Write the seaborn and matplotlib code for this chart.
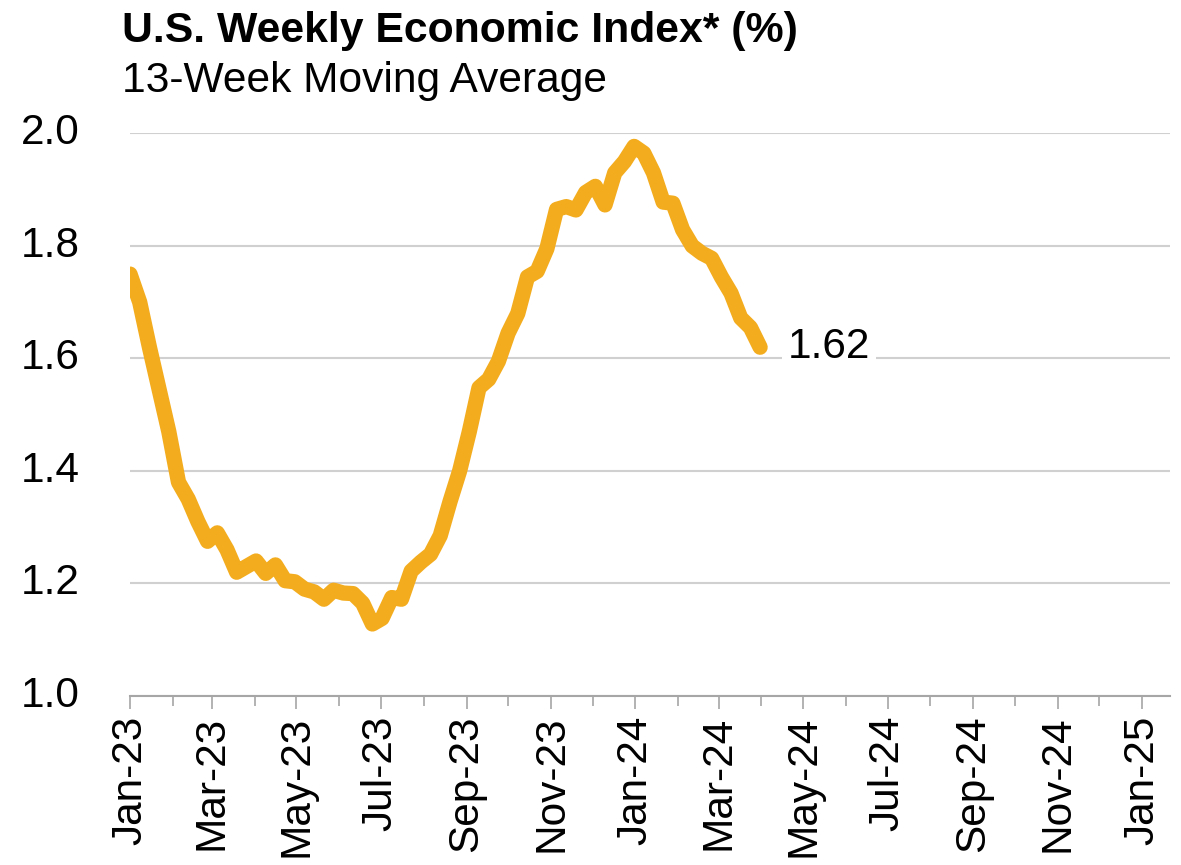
import matplotlib
matplotlib.use("Agg")
import matplotlib.pyplot as plt
import matplotlib.dates as mdates
import numpy as np
import pandas as pd
import seaborn as sns

# -------------------------- data --------------------------
# weekly observations, 13-week moving average (%)
week_start = "2023-01-01"
wei_values = [
    1.75, 1.70, 1.62, 1.545, 1.47, 1.38, 1.35, 1.31, 1.275, 1.29,
    1.26, 1.22, 1.23, 1.24, 1.218, 1.233, 1.205, 1.203, 1.19, 1.185,
    1.172, 1.188, 1.183, 1.182, 1.165, 1.128, 1.138, 1.175, 1.172, 1.222,
    1.238, 1.252, 1.285, 1.345, 1.40, 1.47, 1.548, 1.563, 1.595, 1.645,
    1.68, 1.745, 1.755, 1.795, 1.865, 1.87, 1.864, 1.895, 1.906, 1.873,
    1.93, 1.95, 1.977, 1.965, 1.93, 1.878, 1.876, 1.829, 1.80, 1.787,
    1.778, 1.745, 1.716, 1.672, 1.655, 1.62,
]
y_ticks = [1.0, 1.2, 1.4, 1.6, 1.8, 2.0]
last_label = "1.62"
title = "U.S. Weekly Economic Index* (%)"
subtitle = "13-Week Moving Average"

dates = pd.date_range(week_start, periods=len(wei_values), freq="7D")
df = pd.DataFrame({"date": dates, "wei": wei_values})

# -------------------------- style --------------------------
sns.set_theme(style="white")
plt.rcParams["font.family"] = ["Liberation Sans", "DejaVu Sans"]
plt.rcParams["text.color"] = "black"
plt.rcParams["xtick.labelcolor"] = "black"
plt.rcParams["ytick.labelcolor"] = "black"

line_color = "#F3AC1E"
grid_color = "#D0D0D0"
axis_color = "#A6A6A6"

fig = plt.figure(figsize=(11.81, 8.65), dpi=100)
ax = fig.add_axes([0.1101, 0.1954, 0.8806, 0.6503])

sns.lineplot(data=df, x="date", y="wei", ax=ax, color=line_color,
             linewidth=11, solid_capstyle="round", solid_joinstyle="round")

ax.set_xlim(pd.Timestamp("2023-01-01"), pd.Timestamp("2025-01-21"))
ax.set_ylim(1.0, 2.0)
ax.set_yticks(y_ticks)
ax.yaxis.set_major_formatter(plt.FuncFormatter(lambda v, p: f"{v:.1f}"))

ax.xaxis.set_major_locator(mdates.MonthLocator(bymonth=[1, 3, 5, 7, 9, 11]))
ax.xaxis.set_minor_locator(mdates.MonthLocator())
ax.xaxis.set_major_formatter(mdates.DateFormatter("%b-%y"))

# 网格线 + 坐标轴
ax.grid(axis="y", color=grid_color, linewidth=1.5)
ax.grid(axis="x", visible=False)
ax.set_axisbelow(True)
for s in ["top", "right", "left"]:
    ax.spines[s].set_visible(False)
ax.spines["bottom"].set_color(axis_color)
ax.spines["bottom"].set_linewidth(1.5)

ax.tick_params(axis="x", which="major", direction="out", length=9, width=1.2,
               color=axis_color, labelcolor="black", labelsize=30.5, pad=5,
               labelrotation=90, bottom=True)
ax.tick_params(axis="x", which="minor", direction="out", length=7, width=1.2,
               color=axis_color, bottom=True)
ax.tick_params(axis="y", length=0, labelsize=30.5, labelcolor="black", pad=36)
for lab in ax.get_yticklabels():
    lab.set_verticalalignment("center")

ax.set_xlabel("")
ax.set_ylabel("")

# 末端数值标注
ax.annotate(last_label, xy=(df["date"].iloc[-1], df["wei"].iloc[-1]),
            xytext=(20, 0), textcoords="offset points", fontsize=30.5,
            va="center", ha="left", color="black",
            bbox=dict(facecolor="white", edgecolor="none", pad=4))

fig.text(0.1035, 1 - 42 / 865, title, fontsize=30.8, fontweight="bold",
         va="baseline", ha="left", color="black")
fig.text(0.1035, 1 - 92 / 865, subtitle, fontsize=30.6,
         va="baseline", ha="left", color="black")

fig.savefig("out.png", dpi=100)
